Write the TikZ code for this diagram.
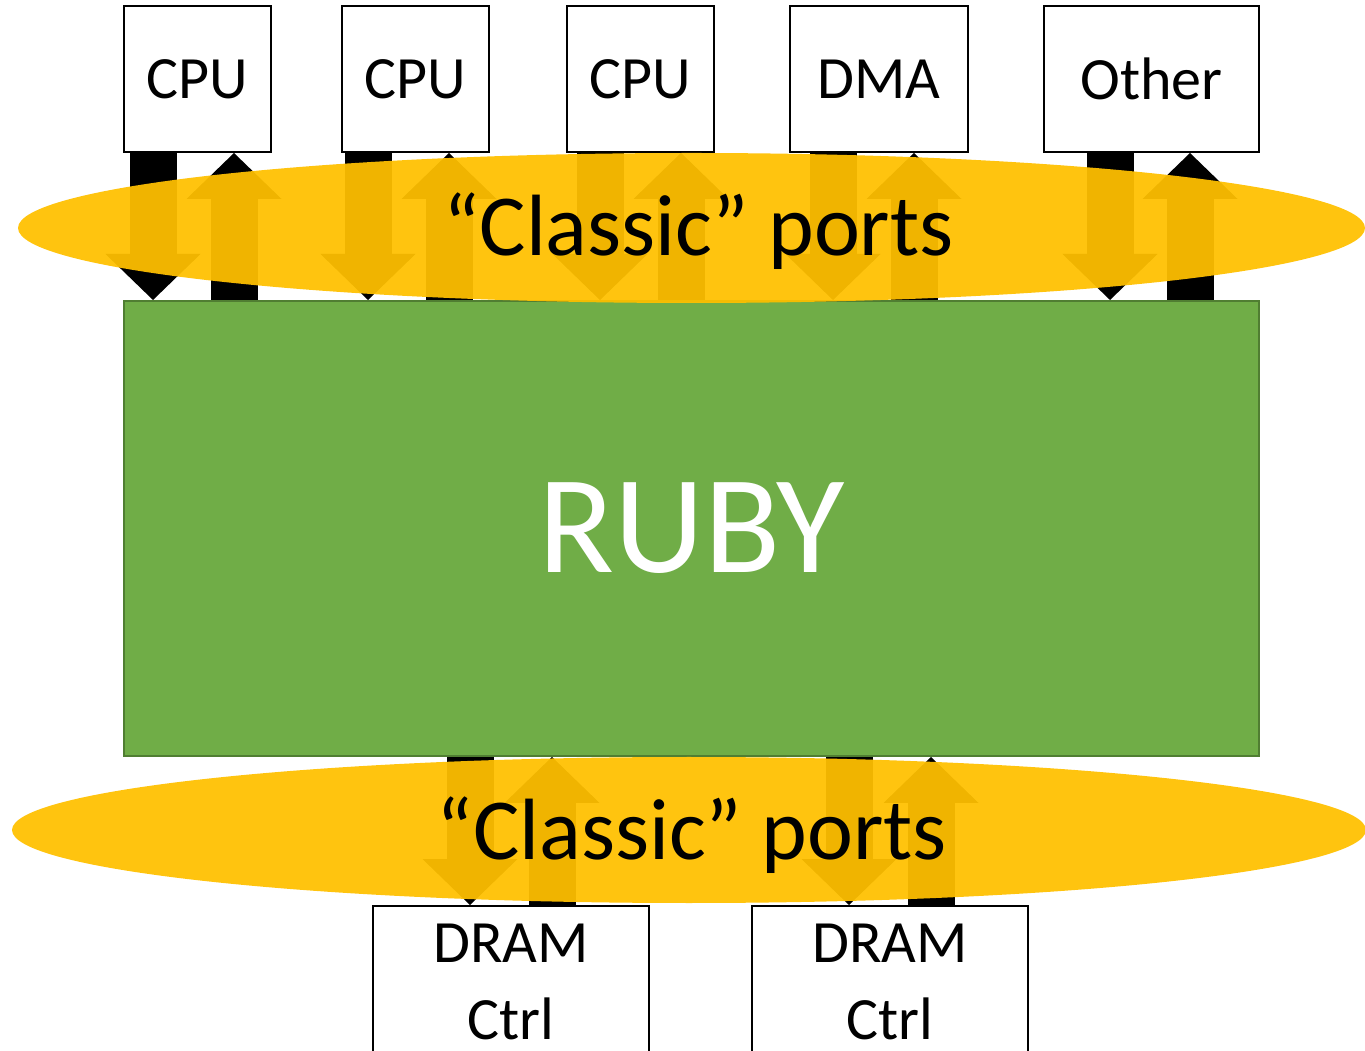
\documentclass[tikz,border=0pt]{standalone}
\usepackage{fontspec}
\setmainfont{Carlito}
\usetikzlibrary{arrows.meta,shapes.geometric,calc}

\definecolor{rubygreen}{HTML}{70AD47}
\definecolor{rubyedge}{HTML}{507E32}
\definecolor{portorange}{HTML}{FFC000}

\begin{document}
\begin{tikzpicture}[x=1pt, y=1pt,
    unit/.style={draw, line width=2pt, fill=white, minimum height=146pt, inner sep=0pt,
        font=\fontsize{60}{72}\selectfont},
    ctrl/.style={unit, anchor=north, minimum width=276pt, align=center, inner ysep=18pt,
        font=\fontsize{60}{77}\selectfont},
    rubybox/.style={draw=rubyedge, line width=2pt, fill=rubygreen, text=white,
        minimum width=1135pt, minimum height=455pt, font=\fontsize{140}{160}\selectfont},
    port/.style={line width=47pt, -{Triangle[width=95pt, length=46pt, line width=0pt]}},
    ring/.style={ellipse, fill=portorange, fill opacity=0.94, inner sep=0pt},
    portlabel/.style={anchor=base, font=\fontsize{87}{100}\selectfont}]

    \clip (0,0) rectangle (1365,1050);

    % Requestors
    \node[unit, minimum width=147pt] (cpuA) at (197.5,971) {CPU};
    \node[unit, minimum width=147pt] (cpuB) at (415.5,971) {CPU};
    \node[unit, minimum width=147pt] (cpuC) at (640.5,971) {CPU};
    \node[unit, minimum width=178pt] (dma) at (879,971) {DMA};
    \node[unit, minimum width=215pt] (other) at (1151.5,971) {Other};

    % Memory system
    \node[rubybox] (ruby) at (691.5,521.5) {RUBY};

    % Memory controllers
    \node[ctrl] (dramA) at (511,145) {DRAM\\Ctrl};
    \node[ctrl] (dramB) at (890,145) {DRAM\\Ctrl};

    % Request / response arrows
    \foreach \unit/\dn/\up in {cpuA/-44.5/36.5, cpuB/-47.5/33.5, cpuC/-40.5/40.5, dma/-46/35, other/-41.5/38.5} {
        \draw[port] ($(\unit.south)+(\dn,0)$) -- ($(\unit.south |- ruby.north)+(\dn,0)$);
        \draw[port] ($(\unit.south |- ruby.north)+(\up,0)$) -- ($(\unit.south)+(\up,0)$);
    }
    \foreach \ctrl in {dramA, dramB} {
        \draw[port] ($(\ctrl.north |- ruby.south)+(-41,0)$) -- ($(\ctrl.north)+(-41,0)$);
        \draw[port] ($(\ctrl.north)+(41,0)$) -- ($(\ctrl.north |- ruby.south)+(41,0)$);
    }

    % Port layers
    \node[ring, minimum width=1347pt, minimum height=150pt] (topRing) at (691.5,822) {};
    \node[ring, minimum width=1354pt, minimum height=146pt] (lowRing) at (689,220) {};
    \node[portlabel] (topLabel) at ($(topRing.center)+(7,-28)$) {“Classic” ports};
    \node[portlabel] (lowLabel) at ($(lowRing.center)+(3,-29)$) {“Classic” ports};

\end{tikzpicture}
\end{document}
